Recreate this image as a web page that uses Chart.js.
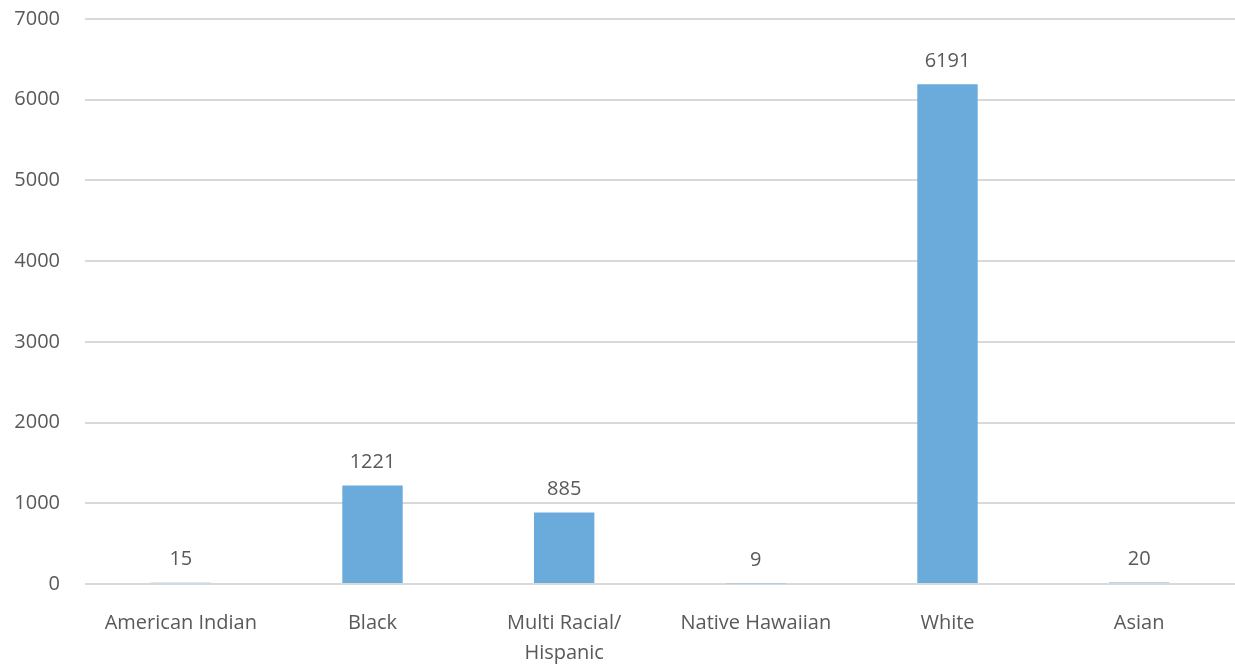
<!DOCTYPE html>
<html>
<head>
<meta charset="utf-8">
<script src="https://cdn.jsdelivr.net/npm/chart.js@4"></script>
<style>
  body { margin: 0; background: #fff; }
  #wrap { width: 1235px; height: 664px; }
</style>
</head>
<body>
<div id="wrap"><canvas id="chart"></canvas></div>
<script>
// Categories and values
var categories = ['American Indian', 'Black', ['Multi Racial/', 'Hispanic'], 'Native Hawaiian', 'White', 'Asian'];
var counts = [15, 1221, 885, 9, 6191, 20];
var yTicks = [0, 1000, 2000, 3000, 4000, 5000, 6000, 7000];

var textColor = '#595959';
var fontFamily = '"Open Sans", sans-serif';

// Draw the value above each bar
var valueLabels = {
    id: 'valueLabels',
    afterDatasetsDraw: function (chart) {
        var ctx = chart.ctx;
        var meta = chart.getDatasetMeta(0);
        ctx.save();
        ctx.font = '20px ' + fontFamily;
        ctx.fillStyle = textColor;
        ctx.textAlign = 'center';
        ctx.textBaseline = 'middle';
        meta.data.forEach(function (bar, i) {
            ctx.fillText(String(counts[i]), bar.x, bar.y - 23);
        });
        ctx.restore();
    }
};

new Chart(document.getElementById('chart'), {
    type: 'bar',
    data: {
        labels: categories,
        datasets: [{
            data: counts,
            backgroundColor: '#6aabdc',
            barPercentage: 0.63,
            categoryPercentage: 0.5
        }]
    },
    options: {
        responsive: true,
        maintainAspectRatio: false,
        animation: false,
        layout: { padding: { top: 0, right: 0, left: 0, bottom: 0 } },
        plugins: { legend: { display: false }, tooltip: { enabled: false } },
        scales: {
            x: {
                grid: { display: false },
                border: { display: false },
                ticks: {
                    color: textColor,
                    font: { family: fontFamily, size: 20, lineHeight: 1.5 },
                    padding: 16,
                    maxRotation: 0,
                    autoSkip: false
                },
                afterFit: function (scale) { scale.height = 80; }
            },
            y: {
                min: 0,
                max: 7000,
                afterBuildTicks: function (scale) {
                    scale.ticks = yTicks.map(function (v) { return { value: v }; });
                },
                grid: { color: '#d9d9d9', lineWidth: 2, drawTicks: false },
                border: { display: false },
                ticks: {
                    color: textColor,
                    font: { family: fontFamily, size: 20 },
                    padding: 25,
                    callback: function (v) { return String(v); }
                },
                afterFit: function (scale) {
                    scale.width = 85;
                    scale.paddingTop = 19; // keep the top gridline where the reference has it
                    scale.paddingBottom = 0;
                }
            }
        }
    },
    plugins: [valueLabels]
});
</script>
</body>
</html>
